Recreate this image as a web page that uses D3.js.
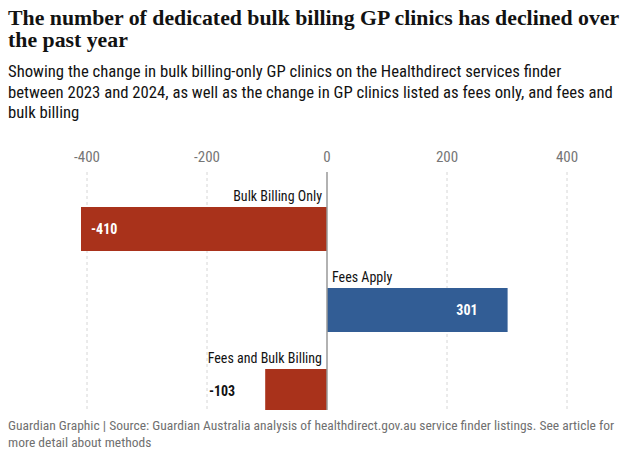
<!DOCTYPE html>
<html><head><meta charset="utf-8">
<script src="https://cdn.jsdelivr.net/npm/d3@7/dist/d3.min.js"></script>
<style>
body{margin:0;background:#fff;}
svg{display:block;}
</style></head>
<body>
<svg id="c" width="629" height="462"></svg>
<script>
const categories = ["Bulk Billing Only", "Fees Apply", "Fees and Bulk Billing"];
const values = [-410, 301, -103];
const tickValues = [-400, -200, 0, 200, 400];
const titleLines = ["The number of dedicated bulk billing GP clinics has declined over", "the past year"];
const subtitleLines = ["Showing the change in bulk billing-only GP clinics on the Healthdirect services finder",
  "between 2023 and 2024, as well as the change in GP clinics listed as fees only, and fees and",
  "bulk billing"];
const footerLines = ["Guardian Graphic | Source: Guardian Australia analysis of healthdirect.gov.au service finder listings. See article for",
  "more detail about methods"];

const svg = d3.select("#c");
const sans = "'Liberation Sans Narrow','Roboto Condensed','Open Sans',sans-serif";
const serif = "'Liberation Serif','DejaVu Serif',serif";

const t = svg.append("text").attr("font-family", serif).attr("font-weight", "bold").attr("font-size", 21.8).attr("fill", "#121212");
titleLines.forEach((l, i) => t.append("tspan").attr("x", 8).attr("y", 25 + i * 22).text(l));
const st = svg.append("text").attr("font-family", sans).attr("font-size", 16.7).attr("fill", "#121212");
subtitleLines.forEach((l, i) => st.append("tspan").attr("x", 8).attr("y", 77 + i * 20.5).text(l));

const x = d3.scaleLinear().domain([-400, 400]).range([87, 567]);
const y = d3.scaleBand().domain(categories).range([207, 413]).paddingInner(37 / 81).paddingOuter(0);

svg.append("defs").append("clipPath").attr("id", "clip")
  .append("rect").attr("x", 0).attr("y", 165).attr("width", 629).attr("height", 245);

const g = svg.append("g");
g.selectAll("line.grid").data(tickValues.filter(d => d !== 0)).join("line")
  .attr("x1", d => x(d)).attr("x2", d => x(d)).attr("y1", 172).attr("y2", 410)
  .attr("stroke", "#d6d6d6").attr("stroke-dasharray", "3,3");
g.selectAll("text.tick").data(tickValues).join("text")
  .attr("x", d => x(d)).attr("y", 162).attr("text-anchor", "middle")
  .attr("font-family", sans).attr("font-size", 15).attr("fill", "#767676")
  .text(d => d);

const bars = svg.append("g").attr("clip-path", "url(#clip)");
bars.selectAll("rect").data(values).join("rect")
  .attr("x", d => x(Math.min(0, d))).attr("width", d => Math.abs(x(d) - x(0)))
  .attr("y", (d, i) => y(categories[i])).attr("height", y.bandwidth())
  .attr("fill", d => d < 0 ? "#a9321b" : "#325d95");

svg.append("line").attr("x1", x(0)).attr("x2", x(0)).attr("y1", 172).attr("y2", 410)
  .attr("stroke", "#999").attr("stroke-width", 1.5);

svg.selectAll("text.cat").data(values).join("text")
  .attr("x", d => d < 0 ? x(0) - 5 : x(0) + 5)
  .attr("y", (d, i) => y(categories[i]) - 6)
  .attr("text-anchor", d => d < 0 ? "end" : "start")
  .attr("font-family", sans).attr("font-size", 14).attr("fill", "#121212")
  .text((d, i) => categories[i]);

const inside = d => Math.abs(x(d) - x(0)) >= 100;
svg.selectAll("text.val").data(values).join("text")
  .attr("x", d => !inside(d) ? x(d) - 30 : (d < 0 ? x(d) + 10 : x(d) - 30))
  .attr("y", (d, i) => y(categories[i]) + y.bandwidth() / 2 + 5)
  .attr("text-anchor", d => !inside(d) ? "end" : (d < 0 ? "start" : "end"))
  .attr("font-family", sans).attr("font-weight", "bold").attr("font-size", 14)
  .attr("fill", d => inside(d) ? "#fff" : "#121212")
  .text(d => d);

const ft = svg.append("text").attr("font-family", sans).attr("font-size", 13.5).attr("fill", "#707070");
footerLines.forEach((l, i) => ft.append("tspan").attr("x", 8).attr("y", 430 + i * 17).text(l));
</script>
</body></html>
